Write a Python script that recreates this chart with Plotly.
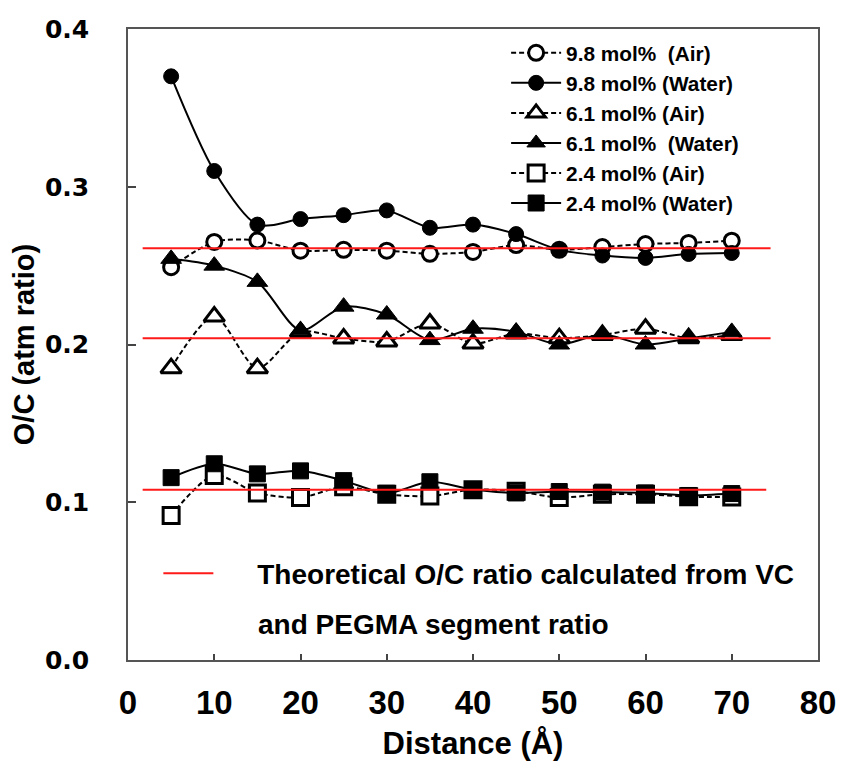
import plotly.graph_objects as go

distance = [5, 10, 15, 20, 25, 30, 35, 40, 45, 50, 55, 60, 65, 70]

air_98 = [0.249, 0.265, 0.266, 0.2595, 0.260, 0.2595, 0.2575, 0.2587, 0.263, 0.260, 0.2618, 0.2637, 0.2644, 0.2658]
water_98 = [0.370, 0.310, 0.276, 0.2795, 0.282, 0.285, 0.274, 0.276, 0.270, 0.260, 0.2564, 0.2549, 0.2574, 0.258]
air_61 = [0.185, 0.2177, 0.185, 0.208, 0.2038, 0.2019, 0.2133, 0.2006, 0.207, 0.204, 0.206, 0.210, 0.204, 0.206]
water_61 = [0.2543, 0.250, 0.2397, 0.209, 0.224, 0.219, 0.2028, 0.210, 0.208, 0.2000, 0.2063, 0.2000, 0.2038, 0.208]
air_24 = [0.0916, 0.117, 0.1059, 0.103, 0.1098, 0.105, 0.1039, 0.108, 0.107, 0.103, 0.105, 0.105, 0.1035, 0.1033]
water_24 = [0.1156, 0.1244, 0.118, 0.1199, 0.1137, 0.1057, 0.113, 0.108, 0.1059, 0.1068, 0.1064, 0.1059, 0.1043, 0.1055]

theory_values = [0.261, 0.204, 0.108]
theory_x_start = [1.7, 1.7, 1.7]
theory_x_end = [74.5, 74.5, 74.0]

series_names = ["9.8 mol%  (Air)", "9.8 mol% (Water)", "6.1 mol% (Air)",
                "6.1 mol%  (Water)", "2.4 mol% (Air)", "2.4 mol% (Water)"]
theory_label_1 = "Theoretical O/C ratio calculated from VC"
theory_label_2 = "and PEGMA segment ratio"

x_ticks = [0, 10, 20, 30, 40, 50, 60, 70, 80]
y_ticks = [0.0, 0.1, 0.2, 0.3, 0.4]

FONT = "Liberation Sans, Arial, sans-serif"

fig = go.Figure()

styles = [
    (air_98, "circle", True),
    (water_98, "circle", False),
    (air_61, "triangle-up", True),
    (water_61, "triangle-up", False),
    (air_24, "square", True),
    (water_24, "square", False),
]
sizes = {"circle": 15, "triangle-up": 18, "square": 16}

for (vals, sym, is_air), name in zip(styles, series_names):
    fig.add_trace(go.Scatter(
        x=distance, y=vals, name=name, mode="lines+markers",
        line=dict(color="black", width=2, shape="spline", smoothing=0.8,
                  dash="5px,3px" if is_air else "solid"),
        marker=dict(symbol=sym, size=sizes[sym],
                    color="white" if is_air else "black",
                    line=dict(color="black", width=3 if is_air else 1)),
        legend="legend",
    ))

tx, ty = [], []
for v, s, e in zip(theory_values, theory_x_start, theory_x_end):
    tx += [s, e, None]
    ty += [v, v, None]
fig.add_trace(go.Scatter(
    x=tx, y=ty, mode="lines", name="\u00a0" * 5 + theory_label_1,
    line=dict(color="#ff1a1a", width=2), legend="legend2",
))

fig.add_annotation(
    text=theory_label_2, xref="paper", yref="paper", x=0.186, y=0.056,
    xanchor="left", yanchor="middle", showarrow=False,
    font=dict(family=FONT, size=28, color="black", weight="bold"),
)

fig.update_layout(
    width=848, height=767,
    margin=dict(l=128, r=22, t=29, b=104),
    paper_bgcolor="white", plot_bgcolor="white",
    showlegend=True,
    legend=dict(x=0.548, y=0.994, xanchor="left", yanchor="top",
                bgcolor="rgba(0,0,0,0)", tracegroupgap=0, itemwidth=50,
                font=dict(family=FONT, size=20.8, color="black", weight="bold")),
    legend2=dict(x=0.044, y=0.137, xanchor="left", yanchor="middle",
                 bgcolor="rgba(0,0,0,0)", itemwidth=50,
                 font=dict(family=FONT, size=28, color="black", weight="bold")),
    xaxis=dict(range=[0, 80], tickvals=x_ticks, ticktext=[str(t) for t in x_ticks],
               ticks="inside", ticklen=6, tickcolor="#444", tickwidth=1.5,
               showline=True, linecolor="#555", linewidth=1.5, mirror=True,
               showgrid=False, zeroline=False, ticklabelstandoff=13,
               tickfont=dict(family=FONT, size=33, color="black", weight="bold"),
               title=dict(text="Distance (Å)", standoff=12,
                          font=dict(family=FONT, size=31, color="black", weight="bold"))),
    yaxis=dict(range=[0, 0.4], tickvals=y_ticks, ticktext=[f"{t:.1f}" for t in y_ticks],
               ticks="inside", ticklen=8, tickcolor="#444", tickwidth=1.5,
               showline=True, linecolor="#555", linewidth=1.5, mirror=True,
               showgrid=False, zeroline=False, ticklabelstandoff=32,
               tickfont=dict(family="DejaVu Sans, sans-serif", size=25, color="black", weight="bold"),
               title=dict(text="O/C (atm ratio)", standoff=2,
                          font=dict(family=FONT, size=29, color="black", weight="bold"))),
)

fig.write_html("out.html")
